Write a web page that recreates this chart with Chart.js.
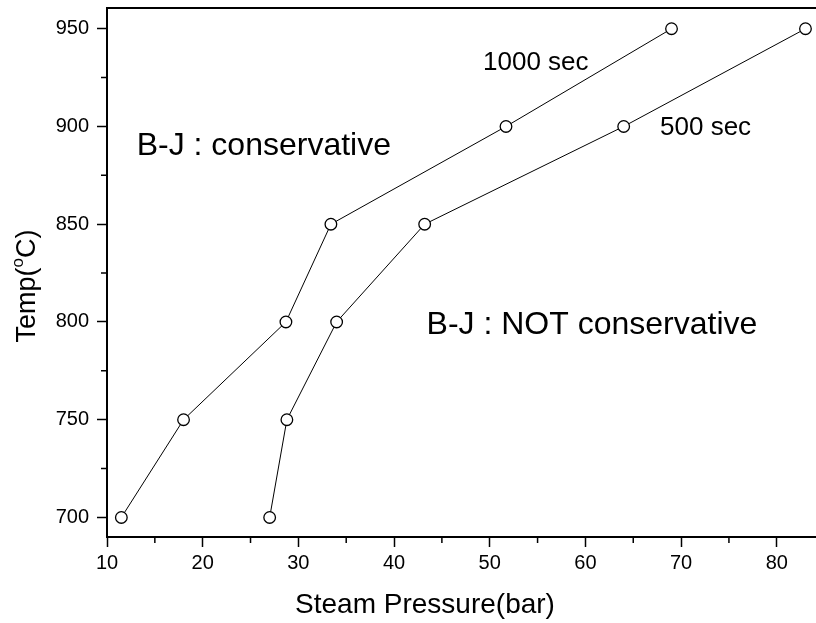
<!DOCTYPE html>
<html lang="en">
<head>
<meta charset="UTF-8">
<title>Temp vs Steam Pressure</title>
<script src="https://cdn.jsdelivr.net/npm/chart.js"></script>
<style>
  body { margin: 0; background: #fff; }
  #wrap { width: 816px; height: 623px; }
</style>
</head>
<body>
<div id="wrap"><canvas id="chart" width="816" height="623"></canvas></div>
<script>
// data
const temps = [700, 750, 800, 850, 900, 950];
const press1000 = [11.5, 18.0, 28.7, 33.4, 51.7, 69.0];
const press500 = [27.0, 28.8, 34.0, 43.2, 64.0, 83.0];
const xTicks = [10, 20, 30, 40, 50, 60, 70, 80];
const yTicks = [700, 750, 800, 850, 900, 950];

const FONT = "Arial, 'Liberation Sans', sans-serif";

// text notes, placed in data coordinates
const notes = [
  { text: '1000 sec', x: 49.3, y: 932.4, size: 26 },
  { text: '500 sec', x: 67.8, y: 899.1, size: 26 },
  { text: 'B-J : conservative', x: 13.1, y: 889.9, size: 32 },
  { text: 'B-J : NOT conservative', x: 43.4, y: 798.2, size: 32 }
];

function pts(xs) {
  return temps.map((t, i) => ({ x: xs[i], y: t }));
}

const extras = {
  id: 'extras',
  afterDraw(chart) {
    const { ctx, chartArea: a, scales } = chart;
    const xs = scales.x, ys = scales.y;
    ctx.save();
    ctx.strokeStyle = '#000';
    // top frame line
    ctx.lineWidth = 2;
    ctx.beginPath();
    ctx.moveTo(a.left, a.top);
    ctx.lineTo(chart.width, a.top);
    ctx.stroke();
    // minor ticks
    ctx.lineWidth = 1.5;
    ctx.beginPath();
    for (let v = 15; v < xs.max; v += 10) {
      const px = xs.getPixelForValue(v);
      ctx.moveTo(px, a.bottom);
      ctx.lineTo(px, a.bottom + 6);
    }
    for (let v = 725; v < ys.max; v += 50) {
      const py = ys.getPixelForValue(v);
      ctx.moveTo(a.left, py);
      ctx.lineTo(a.left - 6, py);
    }
    ctx.stroke();
    // notes
    ctx.fillStyle = '#000';
    ctx.textBaseline = 'middle';
    ctx.textAlign = 'left';
    notes.forEach(n => {
      ctx.font = n.size + 'px ' + FONT;
      ctx.fillText(n.text, xs.getPixelForValue(n.x), ys.getPixelForValue(n.y));
    });
    // x title
    ctx.font = '28px ' + FONT;
    ctx.textAlign = 'center';
    ctx.fillText('Steam Pressure(bar)', 425, 605);
    // y title with superscript o
    ctx.translate(28, 286);
    ctx.rotate(-Math.PI / 2);
    const big = '27px ' + FONT, small = '17px ' + FONT;
    ctx.font = big;
    const w1 = ctx.measureText('Temp(').width;
    const w3 = ctx.measureText('C)').width;
    ctx.font = small;
    const w2 = ctx.measureText('o').width;
    let x = -(w1 + w2 + w3) / 2;
    ctx.textAlign = 'left';
    ctx.font = big;
    ctx.fillText('Temp(', x, 0);
    x += w1;
    ctx.font = small;
    ctx.fillText('o', x, -10);
    x += w2;
    ctx.font = big;
    ctx.fillText('C)', x, 0);
    ctx.restore();
  }
};

const series = (data) => ({
  data: data,
  borderColor: '#000',
  borderWidth: 1,
  backgroundColor: '#fff',
  pointBackgroundColor: '#fff',
  pointBorderColor: '#000',
  pointBorderWidth: 1.3,
  pointRadius: 5.8,
  showLine: true,
  tension: 0
});

new Chart(document.getElementById('chart'), {
  type: 'scatter',
  data: {
    datasets: [series(pts(press1000)), series(pts(press500))]
  },
  options: {
    responsive: false,
    animation: false,
    clip: false,
    layout: { autoPadding: false, padding: { top: 8, right: 0, left: 0, bottom: 0 } },
    plugins: { legend: { display: false }, tooltip: { enabled: false } },
    scales: {
      x: {
        type: 'linear',
        min: 10,
        max: 84.1,
        afterBuildTicks: s => { s.ticks = xTicks.map(v => ({ value: v })); },
        afterFit: s => { s.height = 86; s.paddingLeft = 0; s.paddingRight = 0; },
        border: { color: '#000', width: 2 },
        grid: { drawOnChartArea: false, color: '#000', tickLength: 10, tickWidth: 1.5 },
        ticks: { color: '#000', font: { family: FONT, size: 20 }, padding: 4, maxRotation: 0 }
      },
      y: {
        type: 'linear',
        min: 690,
        max: 960.6,
        afterBuildTicks: s => { s.ticks = yTicks.map(v => ({ value: v })); },
        afterFit: s => { s.width = 107; s.paddingTop = 0; s.paddingBottom = 0; },
        border: { color: '#000', width: 2 },
        grid: { drawOnChartArea: false, color: '#000', tickLength: 10, tickWidth: 1.5 },
        ticks: { color: '#000', font: { family: FONT, size: 20 }, padding: 8 }
      }
    }
  },
  plugins: [extras]
});
</script>
</body>
</html>
